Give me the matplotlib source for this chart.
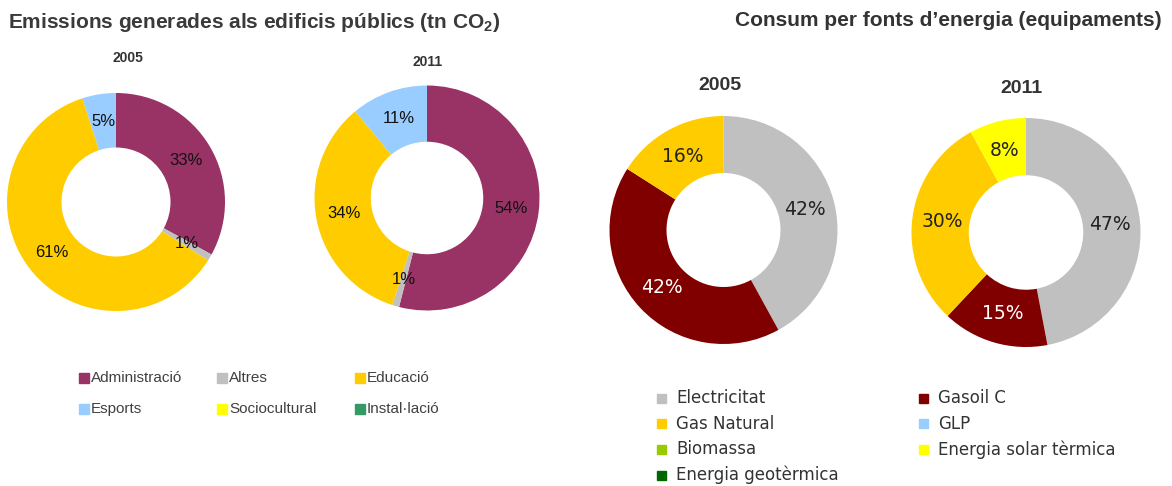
import matplotlib
matplotlib.use("Agg")
import matplotlib.pyplot as plt
from matplotlib.patches import Rectangle

plt.rcParams["mathtext.fontset"] = "custom"
plt.rcParams["mathtext.rm"] = "Liberation Sans:bold"

W, H = 1172, 486

# Emissions (tn CO2) by building type, share in %
emis_categories = ["Administració", "Altres", "Educació", "Esports",
                   "Sociocultural", "Instal·lació"]
emis_colors = ["#993366", "#C0C0C0", "#FFCC00", "#99CCFF", "#FFFF00", "#339966"]
emis_2005 = [33, 1, 61, 5, 0, 0]
emis_2011 = [54, 1, 34, 11, 0, 0]

# Consumption by energy source (facilities), share in %
energy_categories = ["Electricitat", "Gasoil C", "Gas Natural", "GLP",
                     "Biomassa", "Energia solar tèrmica", "Energia geotèrmica"]
energy_colors = ["#C0C0C0", "#800000", "#FFCC00", "#99CCFF",
                 "#99CC00", "#FFFF00", "#006600"]
energy_2005 = [42, 42, 16, 0, 0, 0, 0]
energy_2011 = [47, 15, 30, 0, 0, 8, 0]

fig = plt.figure(figsize=(W / 100, H / 100), dpi=100)


def donut(cx, cy, r, values, colors, font, size, text_colors, pctdist):
    ax = fig.add_axes([(cx - r) / W, (H - cy - r) / H, 2 * r / W, 2 * r / H])
    wedges, _, autotexts = ax.pie(
        values, colors=colors, startangle=90, counterclock=False,
        radius=1.0, pctdistance=pctdist,
        autopct=lambda p: f"{p:.0f}%" if p > 0.5 else "",
        wedgeprops=dict(width=0.5, linewidth=0),
        textprops=dict(family=font, fontsize=size))
    for t, c in zip(autotexts, text_colors):
        t.set_color(c)
    ax.set_xlim(-1, 1)
    ax.set_ylim(-1, 1)
    ax.set_aspect("equal")
    ax.axis("off")
    return ax


def px(x, y):
    return x / W, 1 - y / H


lab = ["#111111"] * 6
donut(116, 202, 109, emis_2005, emis_colors, "Liberation Sans", 12, lab, 0.75)
donut(427, 198, 112.5, emis_2011, emis_colors, "Liberation Sans", 12, lab, 0.75)

r_lab = ["#222222", "white", "#222222", "#222222", "#222222", "#222222", "#222222"]
donut(723.5, 230, 114, energy_2005, energy_colors, "DejaVu Sans", 13.5, r_lab, 0.74)
donut(1026, 232.5, 114.5, energy_2011, energy_colors, "DejaVu Sans", 13.5, r_lab, 0.74)

# Titles
fig.text(*px(8, 23), "Emissions generades als edificis públics (tn CO$_\\mathregular{2}$)",
         family="Liberation Sans", weight="bold", fontsize=15, color="#3a3a3a",
         ha="left", va="center")
fig.text(*px(1162, 21), "Consum per fonts d’energia (equipaments)",
         family="Liberation Sans", weight="bold", fontsize=15, color="#333333",
         ha="right", va="center")

fig.text(*px(128, 58), "2005", family="Liberation Sans", weight="bold",
         fontsize=10, color="#333333", ha="center", va="center")
fig.text(*px(428, 62), "2011", family="Liberation Sans", weight="bold",
         fontsize=10, color="#333333", ha="center", va="center")
fig.text(*px(720, 86), "2005", family="Liberation Sans", weight="bold",
         fontsize=14, color="#333333", ha="center", va="center")
fig.text(*px(1021, 88), "2011", family="Liberation Sans", weight="bold",
         fontsize=14, color="#333333", ha="center", va="center")

# Legend: emissions (3 columns, row-wise)
for i, (name, col) in enumerate(zip(emis_categories, emis_colors)):
    x = 79 + (i % 3) * 138
    y = 378 + (i // 3) * 31
    fig.patches.append(Rectangle(px(x, y + 5), 10 / W, 10 / H, color=col,
                                 transform=fig.transFigure, figure=fig))
    fig.text(*px(x + 12, y), name, family="Liberation Sans", fontsize=11,
             color="#404040", ha="left", va="center")

# Legend: energy sources (2 columns, row-wise)
for i, (name, col) in enumerate(zip(energy_categories, energy_colors)):
    x = 657 + (i % 2) * 262
    y = 398 + (i // 2) * 25.7
    fig.patches.append(Rectangle(px(x, y + 4.5), 9 / W, 9 / H, color=col,
                                 transform=fig.transFigure, figure=fig))
    fig.text(*px(x + 19, y), name, family="DejaVu Sans", fontsize=12,
             color="#333333", ha="left", va="center")

fig.savefig("out.png", dpi=100, facecolor="white")
